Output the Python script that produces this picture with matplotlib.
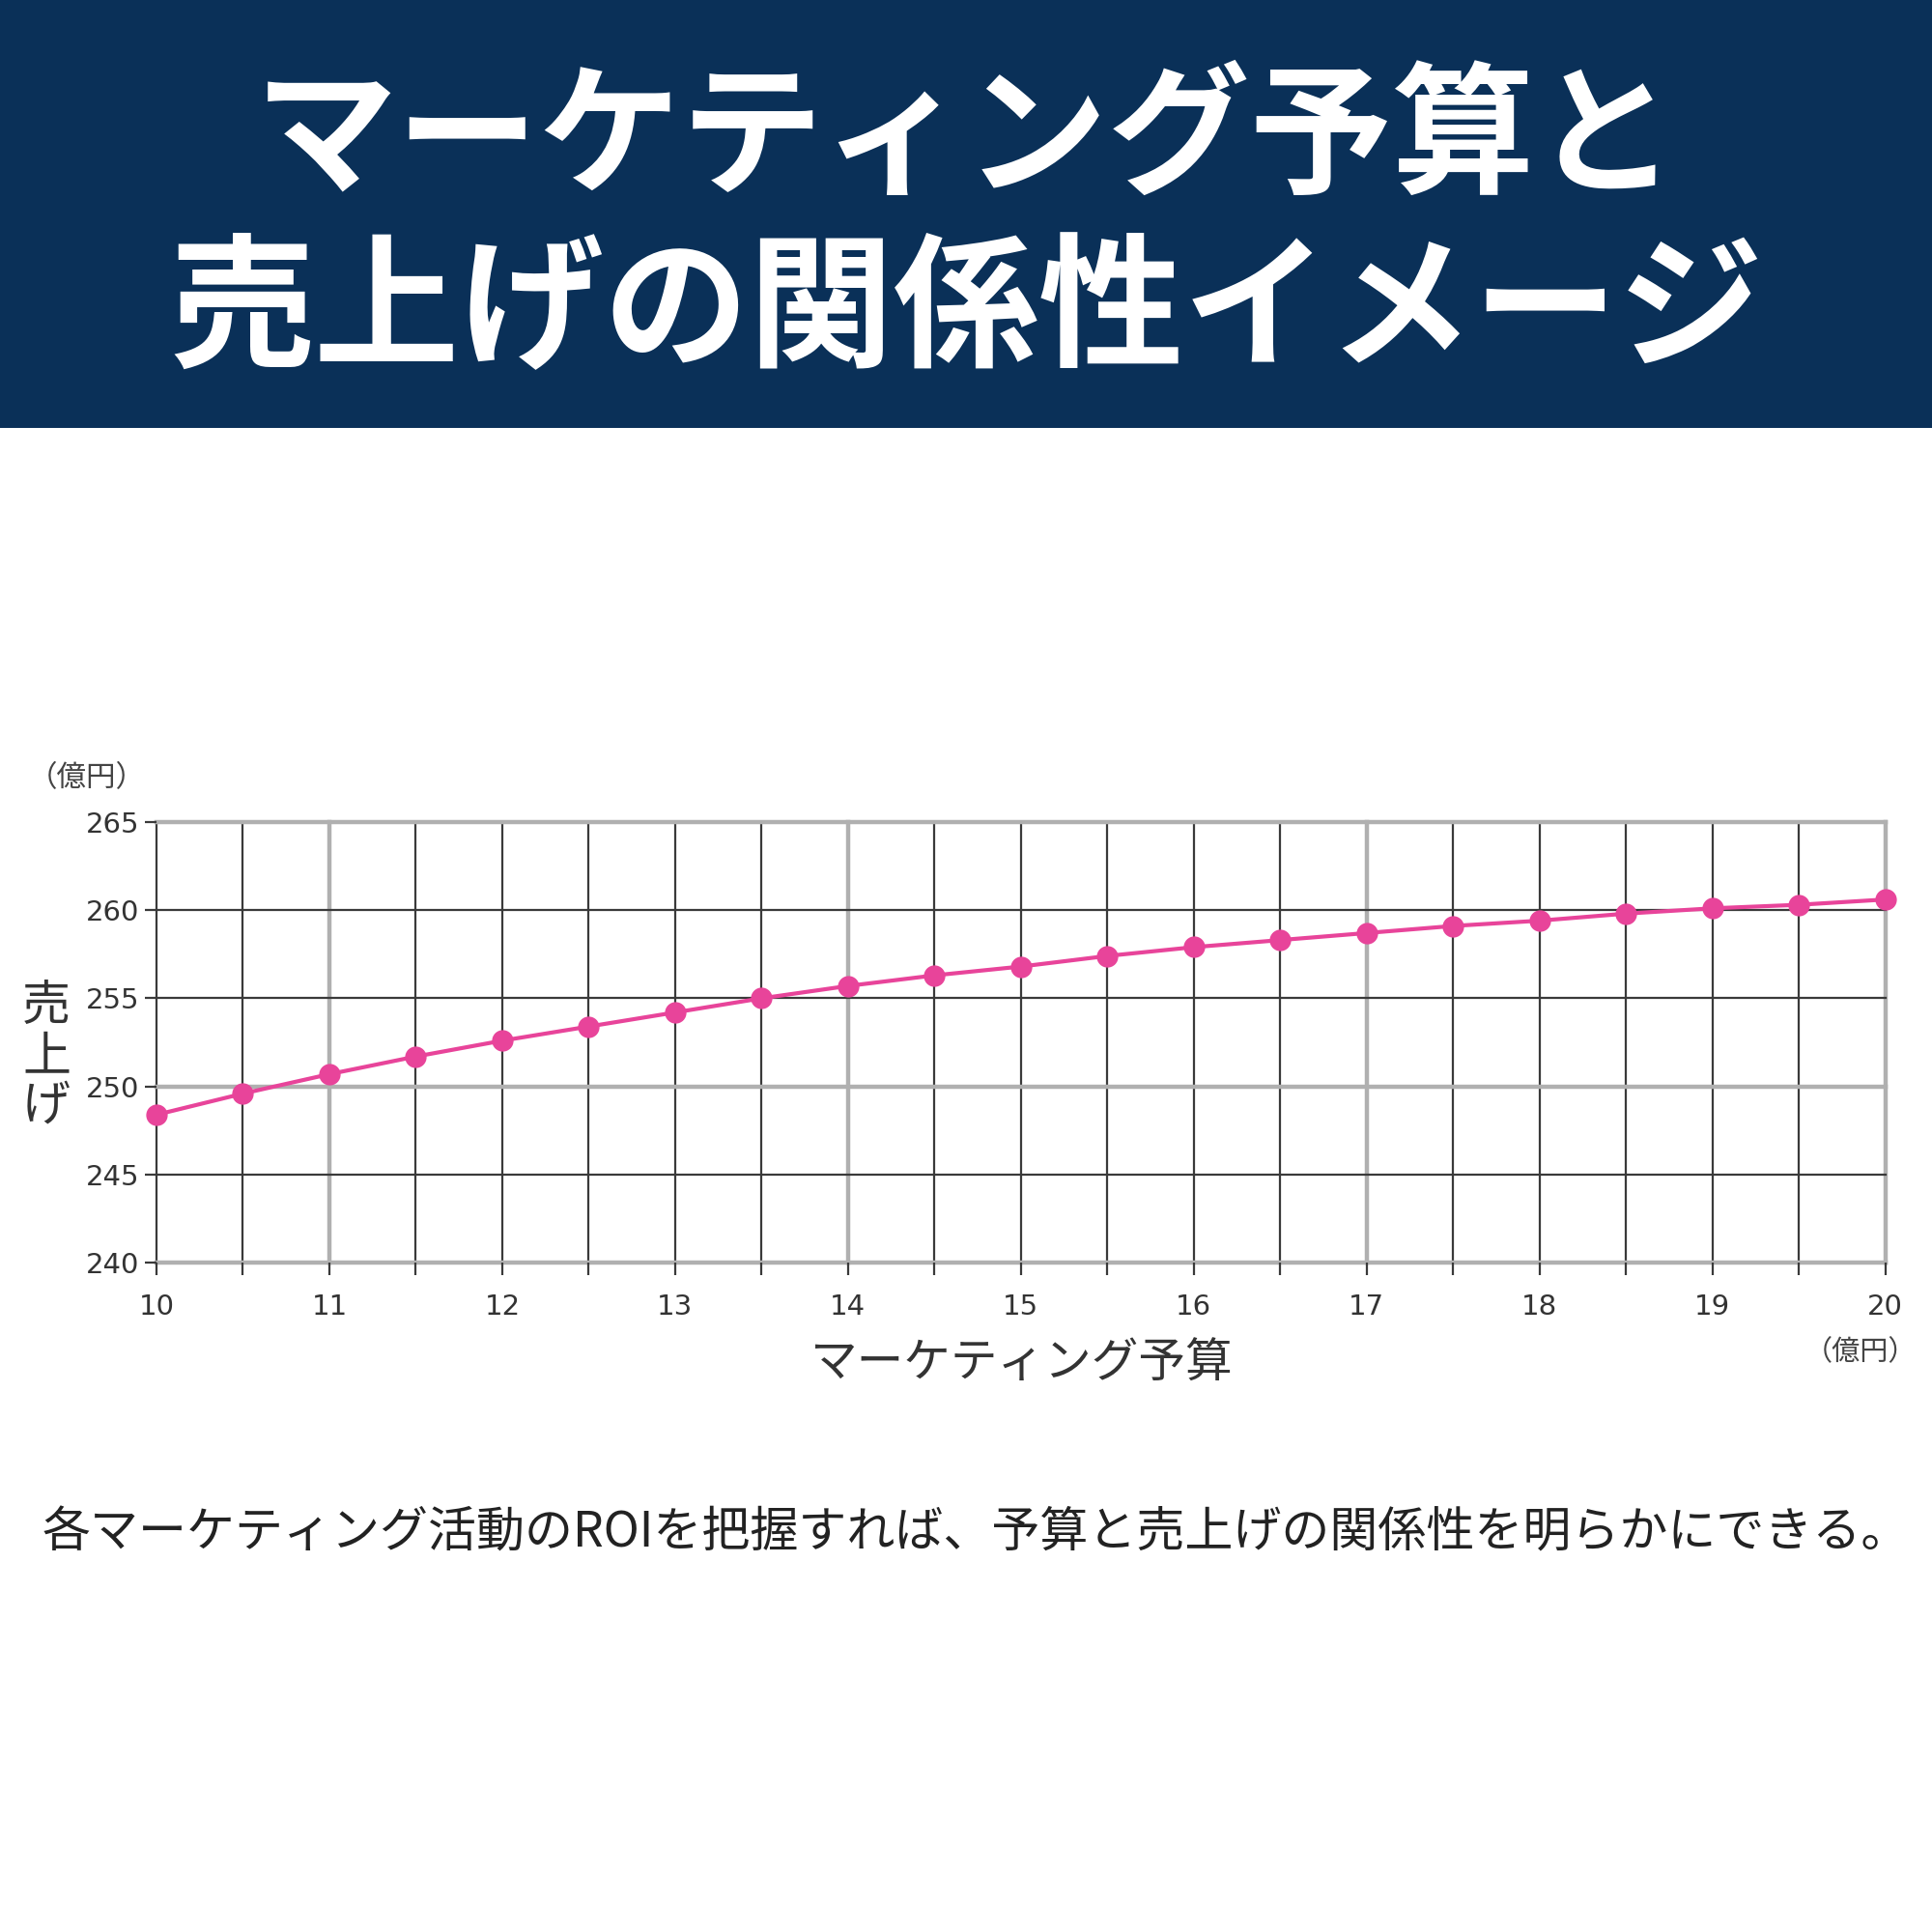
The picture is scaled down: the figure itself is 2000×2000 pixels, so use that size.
import matplotlib
matplotlib.use('Agg')
import matplotlib.pyplot as plt
from matplotlib.patches import Rectangle
from matplotlib.ticker import MultipleLocator

plt.rcParams['font.family'] = ['Noto Sans CJK JP', 'DejaVu Sans']

# data
budget = [10, 10.5, 11, 11.5, 12, 12.5, 13, 13.5, 14, 14.5, 15,
          15.5, 16, 16.5, 17, 17.5, 18, 18.5, 19, 19.5, 20]
sales = [248.4, 249.6, 250.7, 251.7, 252.6, 253.4, 254.2, 255.0, 255.7, 256.3, 256.8,
         257.4, 257.9, 258.3, 258.7, 259.1, 259.4, 259.8, 260.1, 260.3, 260.6]
x_ticks = list(range(10, 21))
y_ticks = [240, 245, 250, 255, 260, 265]

title_1 = 'マーケティング予算と'
title_2 = '売上げの関係性イメージ'
caption = '各マーケティング活動のROIを把握すれば、予算と売上げの関係性を明らかにできる。'

navy = '#0a3058'
pink = '#e8449a'
dark = '#3a3a3a'
light = '#b0b0b0'

fig = plt.figure(figsize=(20, 20), dpi=100)
fig.patch.set_facecolor('white')

# title banner
fig.patches.append(Rectangle((0, 0.7787), 1, 0.2213, transform=fig.transFigure,
                             facecolor=navy, edgecolor='none', zorder=0))
fig.text(0.5, 0.927, title_1, ha='center', va='center',
         fontsize=106, fontweight='bold', color='white')
fig.text(0.5, 0.838, title_2, ha='center', va='center',
         fontsize=108, fontweight='bold', color='white')

ax = fig.add_axes([0.081, 0.3463, 0.8948, 0.2283])
ax.set_xlim(10, 20)
ax.set_ylim(240, 265)

ax.xaxis.set_major_locator(MultipleLocator(1))
ax.xaxis.set_minor_locator(MultipleLocator(0.5))
ax.set_yticks(y_ticks)
ax.set_xticks(x_ticks)

for s in ax.spines.values():
    s.set_visible(False)

# grid lines (some appear lighter in the reference)
for xv in budget:
    gray = xv in (11, 14, 17, 20)
    ax.axvline(xv, color=light if gray else dark, lw=3.2 if gray else 1.6, zorder=1,
               clip_on=False)
for yv in y_ticks:
    gray = yv in (240, 250, 265)
    ax.axhline(yv, color=light if gray else dark, lw=3.2 if gray else 1.6, zorder=1,
               clip_on=False)

ax.tick_params(axis='both', which='both', length=9, width=1.6, color=dark,
               labelsize=21, labelcolor='#333333')
ax.tick_params(axis='x', pad=14)
ax.tick_params(axis='y', pad=4)
for lbl in ax.get_xticklabels() + ax.get_yticklabels():
    lbl.set_family(['Liberation Sans Narrow', 'DejaVu Sans'])

ax.plot(budget, sales, color=pink, lw=3, marker='o', markersize=15,
        markerfacecolor=pink, markeredgecolor=pink, zorder=3, clip_on=False)

# axis captions
fig.text(0.045, 0.597, '（億円）', ha='center', va='center', fontsize=22, color='#444444')
fig.text(0.963, 0.300, '（億円）', ha='center', va='center', fontsize=21, color='#444444')
fig.text(0.024, 0.453, '売\n上\nげ', ha='center', va='center', fontsize=36,
         color='#333333', linespacing=1.0)
fig.text(0.529, 0.294, 'マーケティング予算', ha='center', va='center', fontsize=35,
         color='#333333')

fig.text(0.505, 0.206, caption, ha='center', va='center', fontsize=36, color='#222222')

fig.savefig('out.png', dpi=100, facecolor='white')
